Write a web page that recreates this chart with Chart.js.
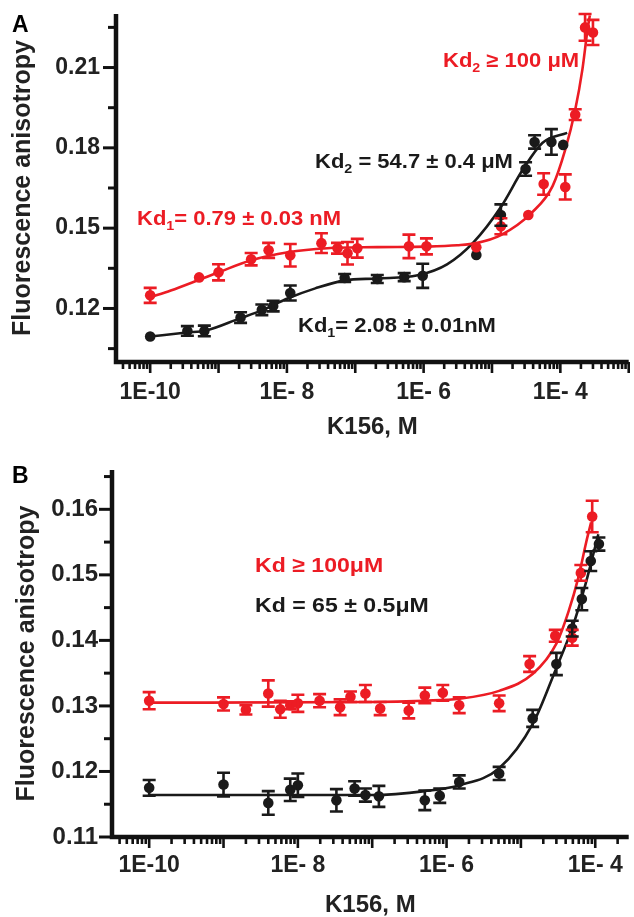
<!DOCTYPE html>
<html>
<head>
<meta charset="utf-8">
<script src="https://cdn.jsdelivr.net/npm/chart.js@4.4.1/dist/chart.umd.min.js"></script>
<style>
  html, body { margin: 0; padding: 0; background: #fff; }
  #boxA { position: absolute; left: 0; top: 0; }
  #boxB { position: absolute; left: 0; top: 455px; }
</style>
</head>
<body>
<div id="boxA"><canvas id="chartA" width="634" height="455"></canvas></div>
<div id="boxB"><canvas id="chartB" width="634" height="462"></canvas></div>
<script>
// ---- panel A : measured points (concentration in M, anisotropy, +/- error)
const aBlackX = [1e-10, 3.5e-10, 6.2e-10, 2.1e-9, 4.3e-9, 6.3e-9, 1.12e-8, 7e-8, 2.1e-7, 5.2e-7, 9.7e-7, 5.9e-6, 1.35e-5, 3.1e-5, 4.2e-5, 7.4e-5, 1.1e-4];
const aBlackY = [0.1095, 0.1116, 0.1116, 0.1166, 0.1195, 0.1209, 0.1258, 0.1314, 0.1310, 0.1317, 0.1322, 0.1400, 0.1549, 0.1721, 0.1822, 0.1822, 0.1811];
const aBlackErr = [0, 0.0018, 0.002, 0.002, 0.002, 0.002, 0.0028, 0.0015, 0.0015, 0.0015, 0.0045, 0, 0.004, 0.0025, 0.0025, 0.0048, 0];

const aRedX = [1e-10, 5.2e-10, 1e-9, 3e-9, 5.4e-9, 1.12e-8, 3.2e-8, 5.5e-8, 7.7e-8, 1.07e-7, 6.1e-7, 1.1e-6, 5.9e-6, 1.35e-5, 3.4e-5, 5.7e-5, 1.18e-4, 1.65e-4, 2.3e-4, 3e-4];
const aRedY = [0.1249, 0.1316, 0.1335, 0.1384, 0.1417, 0.1399, 0.1444, 0.1425, 0.1406, 0.1425, 0.1432, 0.1432, 0.1429, 0.1507, 0.1549, 0.1665, 0.1654, 0.1924, 0.2250, 0.2231];
const aRedErr = [0.0028, 0, 0.003, 0.0023, 0.0028, 0.0042, 0.0037, 0.002, 0.0042, 0.0035, 0.0044, 0.003, 0, 0.003, 0, 0.004, 0.0047, 0.002, 0.005, 0.0047];

// ---- panel A : fitted curves
const aBlackFitX = [1e-10, 3.4e-10, 6.6e-10, 2e-9, 4.3e-9, 1.04e-8, 2.6e-8, 7e-8, 2.1e-7, 8.2e-7, 2.2e-6, 5.4e-6, 1.35e-5, 2.8e-5, 5.5e-5, 1.26e-4];
const aBlackFitY = [0.1095, 0.1110, 0.1118, 0.1162, 0.1193, 0.1238, 0.1275, 0.1305, 0.1312, 0.1324, 0.1365, 0.1448, 0.1579, 0.1717, 0.1819, 0.1856];
const aRedFitX = [1e-10, 2e-10, 5.2e-10, 1e-9, 3e-9, 1.04e-8, 3.9e-8, 2.1e-7, 1.1e-6, 3.1e-6, 5.9e-6, 1.35e-5, 3.9e-5, 7.7e-5, 1.18e-4, 1.65e-4, 2.1e-4, 2.5e-4, 2.7e-4];
const aRedFitY = [0.1242, 0.1267, 0.1307, 0.1335, 0.1380, 0.1410, 0.1425, 0.1429, 0.1431, 0.1436, 0.1444, 0.1474, 0.1560, 0.1657, 0.1793, 0.1942, 0.2092, 0.2242, 0.2295];

// ---- panel B : measured points
const bRedX = [1e-10, 1e-9, 2e-9, 4e-9, 5.8e-9, 7.9e-9, 1e-8, 1.96e-8, 3.7e-8, 5.1e-8, 8.1e-8, 1.28e-7, 3.1e-7, 5.1e-7, 8.9e-7, 1.48e-6, 5.1e-6, 1.31e-5, 2.9e-5, 4.9e-5, 6.4e-5, 9.1e-5];
const bRedY = [0.1308, 0.1303, 0.1294, 0.1319, 0.1295, 0.1301, 0.1304, 0.1308, 0.1298, 0.1314, 0.1319, 0.1296, 0.1293, 0.1316, 0.1320, 0.1301, 0.1304, 0.1364, 0.1407, 0.1404, 0.1503, 0.1589];
const bRedErr = [0.0013, 0.001, 0.0007, 0.002, 0.0013, 0.0006, 0.0013, 0.001, 0.0012, 0.0008, 0.0013, 0.001, 0.0012, 0.0012, 0.0012, 0.0012, 0.0012, 0.0012, 0.0009, 0.0012, 0.0012, 0.0024];

const bBlackX = [1e-10, 1e-9, 4e-9, 7.9e-9, 1e-8, 3.3e-8, 5.8e-8, 8.1e-8, 1.23e-7, 5.1e-7, 8.1e-7, 1.48e-6, 5.1e-6, 1.44e-5, 3e-5, 4.9e-5, 6.6e-5, 8.7e-5, 1.12e-4];
const bBlackY = [0.1175, 0.1180, 0.1152, 0.1172, 0.1179, 0.1156, 0.1174, 0.1164, 0.1162, 0.1156, 0.1163, 0.1184, 0.1197, 0.1281, 0.1364, 0.1418, 0.1463, 0.1521, 0.1547];
const bBlackErr = [0.0012, 0.0018, 0.0018, 0.0017, 0.0018, 0.0017, 0.0011, 0.001, 0.0016, 0.0015, 0.0011, 0.001, 0.001, 0.0013, 0.0017, 0.0012, 0.0017, 0.0015, 0.001];

// ---- panel B : fitted curves
const bRedFitX = [1e-10, 1e-7, 5e-7, 1.5e-6, 5.1e-6, 1.45e-5, 3e-5, 4.4e-5, 5.9e-5, 7.6e-5, 8.8e-5];
const bRedFitY = [0.1305, 0.1306, 0.1308, 0.1311, 0.1323, 0.1349, 0.1395, 0.1445, 0.1495, 0.1551, 0.1580];
const bBlackFitX = [1e-10, 1e-7, 5.1e-7, 1.5e-6, 5.1e-6, 1.45e-5, 3e-5, 4.9e-5, 7.4e-5, 1.1e-4];
const bBlackFitY = [0.1164, 0.1164, 0.1170, 0.1179, 0.1205, 0.1273, 0.1358, 0.1419, 0.1486, 0.1562];

// ---- axis ticks
const xTickValues = [1e-10, 1e-8, 1e-6, 1e-4];
const xTickLabels = ['1E-10', '1E- 8', '1E- 6', '1E- 4'];
const aYTicks = [0.105, 0.12, 0.135, 0.15, 0.165, 0.18, 0.195, 0.21, 0.225];
const aYLabels = [0.12, 0.15, 0.18, 0.21];
const bYTicks = [0.11, 0.115, 0.12, 0.125, 0.13, 0.135, 0.14, 0.145, 0.15, 0.155, 0.16, 0.165];
const bYLabels = [0.11, 0.12, 0.13, 0.14, 0.15, 0.16];

const RED = '#ec1c24';
const BLACK = '#1a1a1a';
const TXT = '#222222';
const FONT = '"Liberation Sans", Arial, Helvetica, sans-serif';

const pts = (xs, ys) => xs.map((x, i) => ({ x: x, y: ys[i] }));

// draws error bars from dataset.errors
const errorBars = {
  id: 'errorBars',
  afterDatasetsDraw(chart) {
    const ctx = chart.ctx;
    const ys = chart.scales.y;
    chart.data.datasets.forEach((ds, i) => {
      if (!ds.errors) return;
      const meta = chart.getDatasetMeta(i);
      ctx.save();
      ctx.strokeStyle = ds.pointBackgroundColor;
      ctx.lineWidth = 2.6;
      meta.data.forEach((p, j) => {
        const e = ds.errors[j];
        if (!e) return;
        const v = ds.data[j].y;
        const t = ys.getPixelForValue(v + e);
        const b = ys.getPixelForValue(v - e);
        ctx.beginPath();
        ctx.moveTo(p.x, t); ctx.lineTo(p.x, b);
        ctx.moveTo(p.x - 6.5, t); ctx.lineTo(p.x + 6.5, t);
        ctx.moveTo(p.x - 6.5, b); ctx.lineTo(p.x + 6.5, b);
        ctx.stroke();
      });
      ctx.restore();
    });
  }
};

// thick axis lines with major / minor tick marks (prism style)
const frame = {
  id: 'frame',
  afterDraw(chart, args, opts) {
    const ctx = chart.ctx;
    const a = chart.chartArea;
    const xs = chart.scales.x, ys = chart.scales.y;
    ctx.save();
    ctx.strokeStyle = '#111';
    ctx.lineCap = 'butt';
    // y ticks
    ctx.lineWidth = 3;
    ys.ticks.forEach(t => {
      const major = opts.yLabels.some(m => Math.abs(m - t.value) < 1e-9);
      const py = ys.getPixelForValue(t.value);
      ctx.beginPath();
      ctx.moveTo(a.left - (major ? 13 : 8), py);
      ctx.lineTo(a.left, py);
      ctx.stroke();
    });
    // x ticks: every 1..9 x 10^n
    const lo = Math.floor(Math.log10(xs.min)), hi = Math.ceil(Math.log10(xs.max));
    ctx.lineWidth = 2.6;
    for (let d = lo; d <= hi; d++) {
      for (let m = 1; m <= 9; m++) {
        const v = m * Math.pow(10, d);
        if (v < xs.min || v > xs.max) continue;
        const px = xs.getPixelForValue(v);
        ctx.beginPath();
        ctx.moveTo(px, a.bottom);
        ctx.lineTo(px, a.bottom + (m === 1 ? 11 : 7));
        ctx.stroke();
      }
    }
    // axis lines
    ctx.lineWidth = 4.5;
    ctx.beginPath();
    ctx.moveTo(a.left, a.top);
    ctx.lineTo(a.left, a.bottom + 2.2);
    ctx.moveTo(a.left - 2.2, a.bottom);
    ctx.lineTo(a.right, a.bottom);
    ctx.stroke();
    ctx.restore();
  }
};

// Kd annotations and panel letter
function drawRich(ctx, x, y, parts, size, color, sx) {
  ctx.save();
  ctx.translate(x, y);
  ctx.scale(sx, 1);
  ctx.fillStyle = color;
  ctx.textBaseline = 'alphabetic';
  ctx.textAlign = 'left';
  let cx = 0;
  parts.forEach(p => {
    const s = p.sub ? Math.round(size * 0.66) : size;
    ctx.font = 'bold ' + s + 'px ' + FONT;
    ctx.fillText(p.t, cx, p.sub ? size * 0.25 : 0);
    cx += ctx.measureText(p.t).width;
  });
  ctx.restore();
}
const notes = {
  id: 'notes',
  afterDraw(chart, args, opts) {
    const ctx = chart.ctx;
    opts.items.forEach(it => drawRich(ctx, it.x, it.y, it.parts, it.size, it.color, it.sx || 1.1));
  }
};

function makeChart(id, cfg) {
  const datasets = [
    { label: 'red points', data: pts(cfg.redX, cfg.redY), errors: cfg.redErr, showLine: false,
      pointRadius: 5.3, pointBackgroundColor: RED, pointBorderWidth: 0, borderColor: RED },
    { label: 'black points', data: pts(cfg.blackX, cfg.blackY), errors: cfg.blackErr, showLine: false,
      pointRadius: 5.3, pointBackgroundColor: BLACK, pointBorderWidth: 0, borderColor: BLACK },
    { label: 'red fit', data: pts(cfg.redFitX, cfg.redFitY), borderColor: RED, borderWidth: 2.6,
      pointRadius: 0, cubicInterpolationMode: 'monotone', fill: false },
    { label: 'black fit', data: pts(cfg.blackFitX, cfg.blackFitY), borderColor: BLACK, borderWidth: 2.6,
      pointRadius: 0, cubicInterpolationMode: 'monotone', fill: false }
  ];
  return new Chart(document.getElementById(id), {
    type: 'line',
    data: { datasets: datasets },
    options: {
      responsive: false,
      animation: false,
      events: [],
      layout: { padding: { top: cfg.top, left: 0, right: 0, bottom: 0 } },
      plugins: {
        legend: { display: false },
        tooltip: { enabled: false },
        frame: { yLabels: cfg.yLabels },
        notes: { items: cfg.notes }
      },
      scales: {
        x: {
          type: 'logarithmic',
          bounds: 'data',
          min: cfg.xMin, max: cfg.xMax,
          grid: { display: false, drawTicks: false },
          border: { display: false },
          afterBuildTicks: s => { s.ticks = xTickValues.map(v => ({ value: v })); },
          afterFit: s => { s.height = cfg.xHeight; s.paddingLeft = 0; s.paddingRight = 0; },
          ticks: {
            autoSkip: false, maxRotation: 0, padding: cfg.xPad, color: TXT,
            font: { family: FONT, size: 23, weight: 'bold', lineHeight: 1.2 },
            callback: (v, i) => xTickLabels[i]
          },
          title: {
            display: true, text: 'K156, M', color: TXT,
            font: { family: FONT, size: 24, weight: 'bold', lineHeight: 1 },
            padding: { top: 0, bottom: cfg.xTitlePad }
          }
        },
        y: {
          type: 'linear',
          bounds: 'data',
          min: cfg.yMin, max: cfg.yMax,
          grid: { display: false, drawTicks: false },
          border: { display: false },
          afterBuildTicks: s => { s.ticks = cfg.yTicks.map(v => ({ value: v })); },
          afterFit: s => { s.width = cfg.yWidth; s.paddingTop = 0; s.paddingBottom = 0; },
          ticks: {
            autoSkip: false, padding: cfg.yPad, color: TXT,
            font: { family: FONT, size: cfg.ySize, weight: 'bold' },
            callback: v => cfg.yLabels.some(m => Math.abs(m - v) < 1e-9) ? v.toFixed(2) : ''
          },
          title: {
            display: true, text: 'Fluorescence anisotropy', color: TXT,
            font: { family: FONT, size: 25, weight: 'bold', lineHeight: 1 },
            padding: { top: cfg.yTitlePad, bottom: 0 }
          }
        }
      }
    },
    plugins: [errorBars, frame, notes]
  });
}

makeChart('chartA', {
  redX: aRedX, redY: aRedY, redErr: aRedErr,
  blackX: aBlackX, blackY: aBlackY, blackErr: aBlackErr,
  redFitX: aRedFitX, redFitY: aRedFitY, blackFitX: aBlackFitX, blackFitY: aBlackFitY,
  xMin: Math.pow(10, -10.5), xMax: 1e-3, yMin: 0.1, yMax: 0.23,
  yTicks: aYTicks, yLabels: aYLabels,
  top: 14, yWidth: 116, xHeight: 93, xPad: 17, xTitlePad: 16, yPad: 16, ySize: 23, yTitlePad: 11,
  notes: [
    { x: 12, y: 32, size: 23, color: '#000', sx: 1, parts: [{ t: 'A' }] },
    { x: 443, y: 67, size: 20, color: RED, parts: [{ t: 'Kd' }, { t: '2', sub: true }, { t: ' \u2265 100 \u03bcM' }] },
    { x: 315, y: 168, size: 20, color: BLACK, parts: [{ t: 'Kd' }, { t: '2', sub: true }, { t: ' = 54.7 \u00b1 0.4 \u03bcM' }] },
    { x: 137, y: 225, size: 20, color: RED, parts: [{ t: 'Kd' }, { t: '1', sub: true }, { t: '= 0.79 \u00b1 0.03 nM' }] },
    { x: 298, y: 332, size: 20, color: BLACK, parts: [{ t: 'Kd' }, { t: '1', sub: true }, { t: '= 2.08 \u00b1 0.01nM' }] }
  ]
});

makeChart('chartB', {
  redX: bRedX, redY: bRedY, redErr: bRedErr,
  blackX: bBlackX, blackY: bBlackY, blackErr: bBlackErr,
  redFitX: bRedFitX, redFitY: bRedFitY, blackFitX: bBlackFitX, blackFitY: bBlackFitY,
  xMin: Math.pow(10, -10.5), xMax: Math.pow(10, -3.55), yMin: 0.11, yMax: 0.166,
  yTicks: bYTicks, yLabels: bYLabels,
  top: 15, yWidth: 112, xHeight: 80, xPad: 15, xTitlePad: 0, yPad: 14, ySize: 24, yTitlePad: 14.5,
  notes: [
    { x: 12, y: 28, size: 23, color: '#000', sx: 1, parts: [{ t: 'B' }] },
    { x: 255, y: 117, size: 21, color: RED, parts: [{ t: 'Kd \u2265 100\u03bcM' }] },
    { x: 255, y: 157, size: 21, color: BLACK, parts: [{ t: 'Kd = 65 \u00b1 0.5\u03bcM' }] }
  ]
});
</script>
</body>
</html>
